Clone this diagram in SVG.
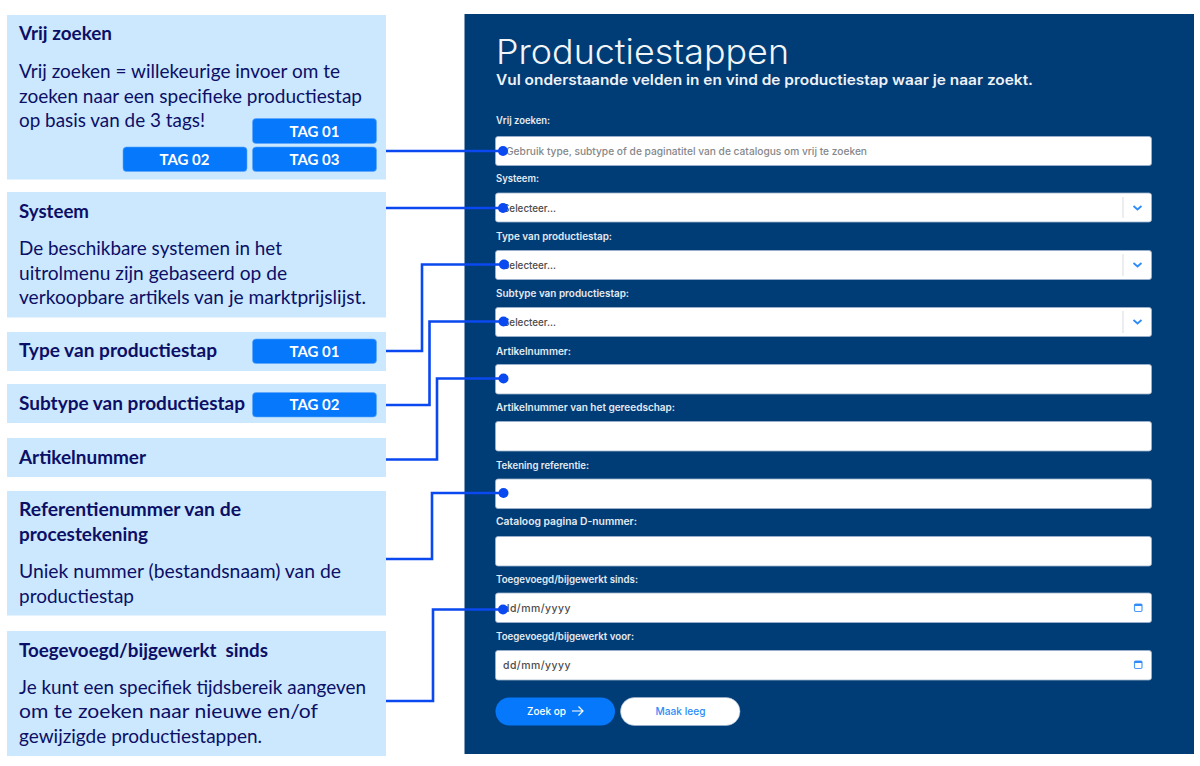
<svg xmlns="http://www.w3.org/2000/svg" width="1200" height="766" viewBox="0 0 1200 766">
<style>
text{font-variant-ligatures:none;white-space:pre}
.box{fill:#cbe8ff}
.h{font:700 18.3px Lato,"Liberation Sans",sans-serif;fill:#0c0f66}
.b{font:400 18.3px Lato,"Liberation Sans",sans-serif;fill:#0c0f66}
.tag{fill:#0678fb;stroke:#5aa5fb;stroke-width:.6}
.tt{font:700 15.5px Lato,"Liberation Sans",sans-serif;fill:#fff;text-anchor:middle}
.lab{font:600 10px Inter,"Liberation Sans",sans-serif;fill:#e4ebf3}
.f{fill:#fff;stroke:#9fb3cb;stroke-width:.8}
.ph{font:500 10px Inter,"Liberation Sans",sans-serif;fill:#4c4c4c}
.sep{stroke:#e3e6ea;stroke-width:1.4}
.chev{fill:none;stroke:#2e8bf8;stroke-width:1.8}
.cal{fill:#fff;stroke:#4d9bf8;stroke-width:1.2}
.con{fill:none;stroke:#0a48f0;stroke-width:2.6}
.dot{fill:#0a48f0}
</style>
<rect width="1200" height="766" fill="#fff"/>
<g id="panel">
<rect x="464.500" y="14" width="729.500" height="740" fill="#003c76"/>
<text x="496" y="64" font-family="Inter,'Liberation Sans',sans-serif" font-size="34" font-weight="300" fill="#f2f5f8" textLength="293" lengthAdjust="spacingAndGlyphs">Productiestappen</text>
<text x="496" y="85" font-family="Inter,'Liberation Sans',sans-serif" font-size="14" font-weight="600" fill="#eef2f6" textLength="537" lengthAdjust="spacingAndGlyphs">Vul onderstaande velden in en vind de productiestap waar je naar zoekt.</text>
</g>
<g id="field-vrij"><text class="lab" x="496" y="124" textLength="54" lengthAdjust="spacingAndGlyphs">Vrij zoeken:</text><rect class="f" x="495.500" y="136.500" width="656" height="29" rx="2.500"/><text class="ph" x="506" y="155" style="fill:#85878a" textLength="361" lengthAdjust="spacingAndGlyphs">Gebruik type, subtype of de paginatitel van de catalogus om vrij te zoeken</text></g>
<g id="field-systeem"><text class="lab" x="496" y="182" textLength="43" lengthAdjust="spacingAndGlyphs">Systeem:</text><rect class="f" x="495.500" y="193" width="656" height="29" rx="2.500"/><text class="ph" x="503" y="212" textLength="53" lengthAdjust="spacingAndGlyphs">Selecteer...</text><path class="sep" d="M1123 197V218"/><path class="chev" d="M1133.500 206l4 3.500 4-3.500"/></g>
<g id="field-type"><text class="lab" x="496" y="240" textLength="116" lengthAdjust="spacingAndGlyphs">Type van productiestap:</text><rect class="f" x="495.500" y="250.500" width="656" height="29" rx="2.500"/><text class="ph" x="503" y="268.500" textLength="53" lengthAdjust="spacingAndGlyphs">Selecteer...</text><path class="sep" d="M1123 254V276"/><path class="chev" d="M1133.500 263l4 3.500 4-3.500"/></g>
<g id="field-subtype"><text class="lab" x="496" y="297" textLength="133" lengthAdjust="spacingAndGlyphs">Subtype van productiestap:</text><rect class="f" x="495.500" y="307.500" width="656" height="29" rx="2.500"/><text class="ph" x="503" y="325.500" textLength="53" lengthAdjust="spacingAndGlyphs">Selecteer...</text><path class="sep" d="M1123 311V333"/><path class="chev" d="M1133.500 320l4 3.500 4-3.500"/></g>
<g id="field-artikel"><text class="lab" x="496" y="354.500" textLength="75" lengthAdjust="spacingAndGlyphs">Artikelnummer:</text><rect class="f" x="495.500" y="364.500" width="656" height="29.500" rx="2.500"/></g>
<g id="field-gereedschap"><text class="lab" x="496" y="411" textLength="179" lengthAdjust="spacingAndGlyphs">Artikelnummer van het gereedschap:</text><rect class="f" x="495.500" y="421.500" width="656" height="29.500" rx="2.500"/></g>
<g id="field-tekening"><text class="lab" x="496" y="468.500" textLength="93" lengthAdjust="spacingAndGlyphs">Tekening referentie:</text><rect class="f" x="495.500" y="479" width="656" height="29.500" rx="2.500"/></g>
<g id="field-catalog"><text class="lab" x="496" y="525" textLength="141" lengthAdjust="spacingAndGlyphs">Cataloog pagina D-nummer:</text><rect class="f" x="495.500" y="536.500" width="656" height="29.500" rx="2.500"/></g>
<g id="field-sinds"><text class="lab" x="496" y="583" textLength="142" lengthAdjust="spacingAndGlyphs">Toegevoegd/bijgewerkt sinds:</text><rect class="f" x="495.500" y="593" width="656" height="29.500" rx="2.500"/><text class="ph" x="503" y="612" textLength="68" lengthAdjust="spacingAndGlyphs" style="font-size:11px;letter-spacing:.5px">dd/mm/yyyy</text><rect class="cal" x="1134.500" y="604" width="7.500" height="7.500" rx="1.200"/><path d="M1134.500 605h7.500" stroke="#2e8bf8" stroke-width="2"/></g>
<g id="field-voor"><text class="lab" x="496" y="640" textLength="138" lengthAdjust="spacingAndGlyphs">Toegevoegd/bijgewerkt voor:</text><rect class="f" x="495.500" y="650.500" width="656" height="29.500" rx="2.500"/><text class="ph" x="503" y="669" textLength="68" lengthAdjust="spacingAndGlyphs" style="font-size:11px;letter-spacing:.5px">dd/mm/yyyy</text><rect class="cal" x="1134.500" y="661" width="7.500" height="7.500" rx="1.200"/><path d="M1134.500 662h7.500" stroke="#2e8bf8" stroke-width="2"/></g>
<g id="btn-zoek"><rect x="495.500" y="697.500" width="119.500" height="28" rx="14" fill="#0678fb"/><text x="527" y="715" font-family="Inter,'Liberation Sans',sans-serif" font-size="10.500" font-weight="500" fill="#fff" textLength="39" lengthAdjust="spacingAndGlyphs">Zoek op</text><path d="M572 711h11M578.500 706.500l4.500 4.500-4.500 4.500" fill="none" stroke="#fff" stroke-width="1.200"/></g>
<g id="btn-leeg"><rect x="620.500" y="697.500" width="119.500" height="28" rx="14" fill="#fff" stroke="#9fb3cb" stroke-width=".6"/><text x="655.500" y="715" font-family="Inter,'Liberation Sans',sans-serif" font-size="10.500" font-weight="500" fill="#2e8bf8" textLength="50" lengthAdjust="spacingAndGlyphs">Maak leeg</text></g>

<g id="node-vrij"><rect class="box" x="7" y="15" width="379" height="164.500"/>
<text class="h" x="19" y="40" textLength="93" lengthAdjust="spacingAndGlyphs">Vrij zoeken</text>
<text class="b" x="19" y="78" textLength="321" lengthAdjust="spacingAndGlyphs">Vrij zoeken = willekeurige invoer om te</text>
<text class="b" x="19" y="102.500" textLength="343" lengthAdjust="spacingAndGlyphs">zoeken naar een specifieke productiestap</text>
<text class="b" x="19" y="127" textLength="186" lengthAdjust="spacingAndGlyphs">op basis van de 3 tags!</text>
<rect class="tag" x="252.500" y="118.500" width="124" height="25" rx="3.500"/><text class="tt" x="314.500" y="136.500" textLength="50" lengthAdjust="spacingAndGlyphs">TAG 01</text>
<rect class="tag" x="123" y="147" width="124" height="24.500" rx="3.500"/><text class="tt" x="184.500" y="165" textLength="50" lengthAdjust="spacingAndGlyphs">TAG 02</text>
<rect class="tag" x="252.500" y="147" width="124" height="24.500" rx="3.500"/><text class="tt" x="314.500" y="165" textLength="50" lengthAdjust="spacingAndGlyphs">TAG 03</text></g>
<g id="node-systeem"><rect class="box" x="7" y="192" width="379" height="125.500"/>
<text class="h" x="19" y="218" textLength="70" lengthAdjust="spacingAndGlyphs">Systeem</text>
<text class="b" x="19" y="255" textLength="263" lengthAdjust="spacingAndGlyphs">De beschikbare systemen in het</text>
<text class="b" x="19" y="280" textLength="268" lengthAdjust="spacingAndGlyphs">uitrolmenu zijn gebaseerd op de</text>
<text class="b" x="19" y="304" textLength="347" lengthAdjust="spacingAndGlyphs">verkoopbare artikels van je marktprijslijst.</text></g>
<g id="node-type"><rect class="box" x="7" y="332" width="379" height="39"/>
<text class="h" x="19" y="356.500" textLength="198" lengthAdjust="spacingAndGlyphs">Type van productiestap</text>
<rect class="tag" x="252.500" y="339" width="124" height="24.500" rx="3.500"/><text class="tt" x="314.500" y="357" textLength="50" lengthAdjust="spacingAndGlyphs">TAG 01</text></g>
<g id="node-subtype"><rect class="box" x="7" y="384" width="379" height="39"/>
<text class="h" x="19" y="410" textLength="226" lengthAdjust="spacingAndGlyphs">Subtype van productiestap</text>
<rect class="tag" x="252.500" y="392.500" width="124" height="24.500" rx="3.500"/><text class="tt" x="314.500" y="410" textLength="50" lengthAdjust="spacingAndGlyphs">TAG 02</text></g>
<g id="node-artikel"><rect class="box" x="7" y="438" width="379" height="39"/>
<text class="h" x="19" y="463.500" textLength="127" lengthAdjust="spacingAndGlyphs">Artikelnummer</text></g>
<g id="node-referentie"><rect class="box" x="7" y="491" width="379" height="124.500"/>
<text class="h" x="19" y="516" textLength="222" lengthAdjust="spacingAndGlyphs">Referentienummer van de</text>
<text class="h" x="19" y="541" textLength="129" lengthAdjust="spacingAndGlyphs">procestekening</text>
<text class="b" x="19" y="578" textLength="322" lengthAdjust="spacingAndGlyphs">Uniek nummer (bestandsnaam) van de</text>
<text class="b" x="19" y="603" textLength="115" lengthAdjust="spacingAndGlyphs">productiestap</text></g>
<g id="node-toegevoegd"><rect class="box" x="7" y="631" width="379" height="125"/>
<text class="h" x="19" y="657" textLength="249" lengthAdjust="spacingAndGlyphs">Toegevoegd/bijgewerkt  sinds</text>
<text class="b" x="19" y="694" textLength="347" lengthAdjust="spacingAndGlyphs">Je kunt een specifiek tijdsbereik aangeven</text>
<text class="b" x="19" y="718" textLength="299" lengthAdjust="spacingAndGlyphs">om te zoeken naar nieuwe en/of</text>
<text class="b" x="19" y="743" textLength="243" lengthAdjust="spacingAndGlyphs">gewijzigde productiestappen.</text></g>

<g id="connectors">
<path class="con" d="M386 151H503"/><circle class="dot" cx="503" cy="151" r="5"/>
<path class="con" d="M386 208H503"/><circle class="dot" cx="503" cy="208" r="5"/>
<path class="con" d="M386 351H422V264.500H504"/><circle class="dot" cx="504" cy="264.500" r="5"/>
<path class="con" d="M386 405H429.500V321.500H503.500"/><circle class="dot" cx="503.500" cy="321.500" r="5"/>
<path class="con" d="M386 459.500H437V378.500H503.500"/><circle class="dot" cx="503.500" cy="378.500" r="5"/>
<path class="con" d="M386 559H432V493H503.500"/><circle class="dot" cx="503.500" cy="493" r="5"/>
<path class="con" d="M386 701H433V609.500H503"/><circle class="dot" cx="503" cy="609.500" r="5"/>
</g>
</svg>
